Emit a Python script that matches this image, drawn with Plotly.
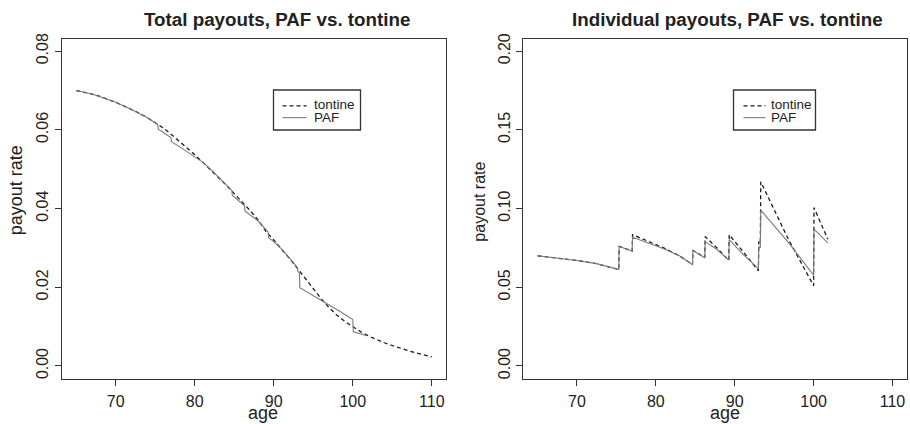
import plotly.graph_objects as go

# ---------------- data ----------------
# Left panel: total payouts
total_age = list(range(65, 111))
total_tontine = [0.0700, 0.0696, 0.0691, 0.0685, 0.0678, 0.0670, 0.0661, 0.0652, 0.0642, 0.0631,
                 0.0619, 0.0605, 0.0589, 0.0572, 0.0555, 0.0537, 0.0518, 0.0499, 0.0479, 0.0459,
                 0.0438, 0.0417, 0.0395, 0.0372, 0.0342, 0.0320, 0.0297, 0.0273, 0.0248, 0.0222,
                 0.0196, 0.0171, 0.0148, 0.0129, 0.0113, 0.0099, 0.0087, 0.0076, 0.0067, 0.0059,
                 0.0052, 0.0045, 0.0039, 0.0033, 0.0028, 0.0023]

paf_total_age = [65, 67, 70, 72, 74, 75.3, 75.4, 76, 77.0, 77.05, 78, 79, 80, 81, 82, 83, 84,
                 84.7, 84.75, 85.5, 86.3, 86.35, 87, 88, 89.3, 89.35, 90, 91, 92, 93.0, 93.05,
                 93.25, 93.3, 95, 97, 98.5, 100.0, 100.08, 101.8]
paf_total = [0.0700, 0.0691, 0.0670, 0.0652, 0.0631, 0.0614, 0.0601, 0.0594, 0.0580, 0.0570,
             0.0558, 0.0545, 0.0532, 0.0518, 0.0500, 0.0480, 0.0460, 0.0446, 0.0434, 0.0421,
             0.0407, 0.0394, 0.0385, 0.0369, 0.0340, 0.0326, 0.0316, 0.0297, 0.0274, 0.0250,
             0.0240, 0.0236, 0.0199, 0.0179, 0.0155, 0.0137, 0.0118, 0.0087, 0.0077]

# Right panel: individual payouts
ind_tontine_age = [65, 67.5, 70, 72.5, 75.3, 75.35, 77.0, 77.05, 79, 81, 83, 84.65, 84.7, 86.2,
                   86.25, 87.75, 89.25, 89.3, 91, 93.0, 93.05, 93.25, 93.3, 96.8, 100.0, 100.05,
                   101.8]
ind_tontine = [0.0700, 0.0686, 0.0670, 0.0650, 0.0612, 0.0760, 0.0730, 0.0834, 0.0795, 0.0750,
               0.0700, 0.0643, 0.0735, 0.0688, 0.0822, 0.0750, 0.0670, 0.0834, 0.0730, 0.0605,
               0.0790, 0.0780, 0.1170, 0.0805, 0.0510, 0.1006, 0.0805]

ind_paf_age = [65, 67.5, 70, 72.5, 75.3, 75.35, 77.0, 77.05, 79, 81, 83, 84.65, 84.7, 86.2,
               86.25, 87.75, 89.25, 89.3, 91, 93.0, 93.05, 93.25, 93.3, 96.8, 100.0, 100.05,
               101.8]
ind_paf = [0.0700, 0.0686, 0.0670, 0.0650, 0.0612, 0.0759, 0.0730, 0.0818, 0.0782, 0.0745,
           0.0700, 0.0643, 0.0734, 0.0688, 0.0790, 0.0740, 0.0672, 0.0802, 0.0712, 0.0618,
           0.0760, 0.0752, 0.0990, 0.0785, 0.0577, 0.0870, 0.0782]

x_ticks = [70, 80, 90, 100, 110]
left_y_ticks = [0.00, 0.02, 0.04, 0.06, 0.08]
right_y_ticks = [0.00, 0.05, 0.10, 0.15, 0.20]

series_names = ["tontine", "PAF"]
titles = ["Total payouts, PAF vs. tontine", "Individual payouts, PAF vs. tontine"]
x_label = "age"
y_label = "payout rate"

# ---------------- figure ----------------
FONT = "Liberation Sans, Arial, Helvetica, sans-serif"
W, H = 910, 424
TONTINE_COLOR = "#1a1a1a"
PAF_COLOR = "#7a7a7a"
TEXT_COLOR = "#222222"
DASH = "4px,3px"


def px_x(p):
    """page pixel x -> paper fraction"""
    return p / W


def px_y(p):
    """page pixel y (from top) -> paper fraction"""
    return 1 - p / H


fig = go.Figure()

fig.add_trace(go.Scatter(x=total_age, y=total_tontine, mode="lines", name=series_names[0],
                         line=dict(color=TONTINE_COLOR, width=1.3, dash=DASH),
                         xaxis="x", yaxis="y", showlegend=False))
fig.add_trace(go.Scatter(x=paf_total_age, y=paf_total, mode="lines", name=series_names[1],
                         line=dict(color=PAF_COLOR, width=1.1),
                         xaxis="x", yaxis="y", showlegend=False))
fig.add_trace(go.Scatter(x=ind_tontine_age, y=ind_tontine, mode="lines", name=series_names[0],
                         line=dict(color=TONTINE_COLOR, width=1.3, dash=DASH),
                         xaxis="x2", yaxis="y2", showlegend=False))
fig.add_trace(go.Scatter(x=ind_paf_age, y=ind_paf, mode="lines", name=series_names[1],
                         line=dict(color=PAF_COLOR, width=1.1),
                         xaxis="x2", yaxis="y2", showlegend=False))

axis_common = dict(showline=True, mirror=True, linecolor="#333333", linewidth=1.3,
                   ticks="outside", ticklen=6, tickwidth=1, tickcolor="#333333",
                   showgrid=False, zeroline=False,
                   tickfont=dict(family=FONT, size=16, color=TEXT_COLOR))

shapes = []
annotations = []

# legends (box + samples + labels), page-pixel geometry
legend_boxes = [
    dict(x0=273.5, x1=360.5, line_x0=282.5, line_x1=306.5, text_x=312),
    dict(x0=733.5, x1=815.5, line_x0=743.5, line_x1=765.5, text_x=768.5),
]
row_y = [101, 114]
for lb in legend_boxes:
    shapes.append(dict(type="rect", xref="paper", yref="paper",
                       x0=px_x(lb["x0"]), x1=px_x(lb["x1"]), y0=px_y(126.5), y1=px_y(86),
                       line=dict(color="#333333", width=1.3), fillcolor="white", layer="above"))
    shapes.append(dict(type="line", xref="paper", yref="paper",
                       x0=px_x(lb["line_x0"]), x1=px_x(lb["line_x1"]),
                       y0=px_y(row_y[0] + 1), y1=px_y(row_y[0] + 1),
                       line=dict(color=TONTINE_COLOR, width=1.3, dash=DASH)))
    shapes.append(dict(type="line", xref="paper", yref="paper",
                       x0=px_x(lb["line_x0"]), x1=px_x(lb["line_x1"]),
                       y0=px_y(row_y[1]), y1=px_y(row_y[1]),
                       line=dict(color=PAF_COLOR, width=1.1)))
    for name, ry in zip(series_names, row_y):
        annotations.append(dict(text=name, x=px_x(lb["text_x"]), y=px_y(ry),
                                xref="paper", yref="paper", showarrow=False,
                                xanchor="left", yanchor="middle",
                                font=dict(family=FONT, size=13.5, color=TEXT_COLOR)))

# titles
for t, cx in zip(titles, [277, 727]):
    annotations.append(dict(text="<b>" + t + "</b>", x=px_x(cx), y=px_y(15),
                            xref="paper", yref="paper", showarrow=False,
                            xanchor="center", yanchor="middle",
                            font=dict(family=FONT, size=18.8, color=TEXT_COLOR)))

# axis titles
for cx in [263, 725]:
    annotations.append(dict(text=x_label, x=px_x(cx), y=px_y(412.5), xref="paper", yref="paper",
                            showarrow=False, xanchor="center", yanchor="middle",
                            font=dict(family=FONT, size=18, color=TEXT_COLOR)))
for cx, cy, fs in [(15.5, 188, 18), (480, 199, 16)]:
    annotations.append(dict(text=y_label, x=px_x(cx), y=px_y(cy), xref="paper", yref="paper",
                            showarrow=False, xanchor="center", yanchor="middle", textangle=-90,
                            font=dict(family=FONT, size=fs, color=TEXT_COLOR)))

fig.update_layout(
    width=W, height=H,
    margin=dict(l=0, r=0, t=0, b=0),
    paper_bgcolor="white", plot_bgcolor="white",
    font=dict(family=FONT, color=TEXT_COLOR),
    showlegend=False,
    xaxis=dict(domain=[px_x(62), px_x(446)], range=[63.2, 111.8], tickvals=x_ticks,
               anchor="y", ticklabelstandoff=2, **axis_common),
    yaxis=dict(domain=[px_y(378), px_y(34)], range=[-0.0032, 0.0832], tickvals=left_y_ticks,
               tickformat=".2f", tickangle=-90, anchor="x", **axis_common),
    xaxis2=dict(domain=[px_x(523.3), px_x(906.7)], range=[63.2, 111.8], tickvals=x_ticks,
                anchor="y2", ticklabelstandoff=2, **axis_common),
    yaxis2=dict(domain=[px_y(378), px_y(34)], range=[-0.008, 0.208], tickvals=right_y_ticks,
                tickformat=".2f", tickangle=-90, anchor="x2", **axis_common),
    shapes=shapes,
    annotations=annotations,
)

# remove the browser's default page margin so the 910x424 figure fills the window exactly
fig.write_html("out.html",
               config={"displayModeBar": False},
               post_script="document.body.style.margin='0';"
                           "document.documentElement.style.overflow='hidden';")
